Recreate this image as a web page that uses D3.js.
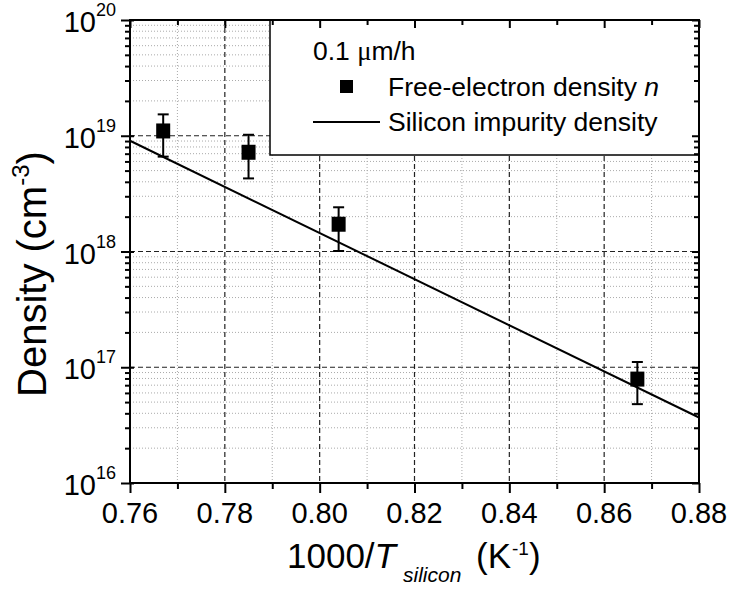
<!DOCTYPE html>
<html><head><meta charset="utf-8">
<script src="https://cdn.jsdelivr.net/npm/d3@7"></script>
<style>body{margin:0;background:#fff}svg{display:block}text{font-family:Arial,"Liberation Sans",sans-serif;fill:#000}</style>
</head><body><svg id="c" width="730" height="589"></svg>
<script>
const xMajorTicks = [0.76, 0.78, 0.80, 0.82, 0.84, 0.86, 0.88];
const xTickLabels = ["0.76", "0.78", "0.80", "0.82", "0.84", "0.86", "0.88"];
const xMinorTicks = [0.77, 0.79, 0.81, 0.83, 0.85, 0.87];
const yExponents = [16, 17, 18, 19, 20];
const pointsX = [0.767, 0.785, 0.804, 0.867];
const pointsY = [1.10e19, 7.2e18, 1.72e18, 7.9e16];
const errHigh = [1.53e19, 1.02e19, 2.41e18, 1.11e17];
const errLow = [6.6e18, 4.28e18, 1.01e18, 4.8e16];
const lineX = [0.76, 0.88];
const lineY = [9.05e18, 3.68e16];

const L = 130, R = 699, T = 20, B = 483;
const svg = d3.select("#c");
const x = d3.scaleLinear().domain([0.76, 0.88]).range([L, R]);
const y = d3.scaleLog().domain([1e16, 1e20]).range([B, T]);

const yMajor = yExponents.map(e => Math.pow(10, e));
const yMinor = [];
for (let e = 16; e < 20; e++) for (let k = 2; k <= 9; k++) yMinor.push(k * Math.pow(10, e));

// grid
const g = svg.append("g");
g.selectAll(".gxm").data(xMinorTicks).join("line")
  .attr("x1", d => x(d)).attr("x2", d => x(d)).attr("y1", T).attr("y2", B)
  .attr("stroke", "#aaa").attr("stroke-width", 1).attr("stroke-dasharray", "1,2");
g.selectAll(".gym").data(yMinor).join("line")
  .attr("x1", L).attr("x2", R).attr("y1", d => y(d)).attr("y2", d => y(d))
  .attr("stroke", "#aaa").attr("stroke-width", 1).attr("stroke-dasharray", "1,2");
g.selectAll(".gxM").data(xMajorTicks.slice(1, -1)).join("line")
  .attr("x1", d => x(d)).attr("x2", d => x(d)).attr("y1", T).attr("y2", B)
  .attr("stroke", "#222").attr("stroke-width", 1.2).attr("stroke-dasharray", "5,3");
g.selectAll(".gyM").data(yMajor.slice(1, -1)).join("line")
  .attr("x1", L).attr("x2", R).attr("y1", d => y(d)).attr("y2", d => y(d))
  .attr("stroke", "#222").attr("stroke-width", 1.2).attr("stroke-dasharray", "5,3");

// legend box
svg.append("rect").attr("x", 270).attr("y", T).attr("width", R - 270).attr("height", 155 - T)
  .attr("fill", "#fff").attr("stroke", "#000").attr("stroke-width", 1.5);

// fitted line
svg.append("path").datum(lineX.map((d, i) => [d, lineY[i]]))
  .attr("d", d3.line().x(d => x(d[0])).y(d => y(d[1])))
  .attr("fill", "none").attr("stroke", "#000").attr("stroke-width", 2);

// error bars and points
const pts = svg.append("g");
pointsX.forEach((px, i) => {
  const cx = x(px);
  pts.append("line").attr("x1", cx).attr("x2", cx).attr("y1", y(errHigh[i])).attr("y2", y(errLow[i]))
    .attr("stroke", "#000").attr("stroke-width", 2);
  [errHigh[i], errLow[i]].forEach(v => pts.append("line")
    .attr("x1", cx - 5.5).attr("x2", cx + 5.5).attr("y1", y(v)).attr("y2", y(v))
    .attr("stroke", "#000").attr("stroke-width", 2));
  pts.append("rect").attr("x", cx - 7).attr("y", y(pointsY[i]) - 7.5).attr("width", 14).attr("height", 15).attr("fill", "#000");
});

// axes
function style(sel) { sel.select(".domain").remove(); sel.selectAll("line").attr("stroke", "#000").attr("stroke-width", 2); sel.selectAll("text").remove(); }
svg.append("g").attr("transform", `translate(0,${B})`).call(d3.axisBottom(x).tickValues(xMajorTicks).tickSize(10)).call(style);
svg.append("g").attr("transform", `translate(0,${B})`).call(d3.axisBottom(x).tickValues(xMinorTicks).tickSize(6)).call(style);
svg.append("g").attr("transform", `translate(0,${T})`).call(d3.axisBottom(x).tickValues(xMajorTicks).tickSize(8)).call(style);
svg.append("g").attr("transform", `translate(0,${T})`).call(d3.axisBottom(x).tickValues(xMinorTicks).tickSize(5)).call(style);
svg.append("g").attr("transform", `translate(${L},0)`).call(d3.axisLeft(y).tickValues(yMajor).tickSize(9)).call(style);
svg.append("g").attr("transform", `translate(${L},0)`).call(d3.axisRight(y).tickValues(yMajor).tickSize(4)).call(style);
svg.append("g").attr("transform", `translate(${L},0)`).call(d3.axisLeft(y).tickValues(yMinor).tickSize(5)).call(style);
svg.append("g").attr("transform", `translate(${R},0)`).call(d3.axisLeft(y).tickValues(yMajor).tickSize(7)).call(style);
svg.append("g").attr("transform", `translate(${R},0)`).call(d3.axisLeft(y).tickValues(yMinor).tickSize(5)).call(style);
svg.append("rect").attr("x", L).attr("y", T).attr("width", R - L).attr("height", B - T)
  .attr("fill", "none").attr("stroke", "#000").attr("stroke-width", 2);

// tick labels
svg.selectAll(".xl").data(xMajorTicks).join("text")
  .attr("x", d => x(d)).attr("y", 523).attr("text-anchor", "middle").attr("font-size", 29)
  .text((d, i) => xTickLabels[i]);
yExponents.forEach(e => {
  const t = svg.append("text").attr("x", 116).attr("y", y(Math.pow(10, e)) + 12).attr("text-anchor", "end").attr("font-size", 29);
  t.append("tspan").text("10");
  t.append("tspan").attr("dy", -16).attr("font-size", 18).text(String(e));
});

// axis titles
const xt = svg.append("text").attr("x", 287).attr("y", 568).attr("font-size", 35);
xt.append("tspan").text("1000/");
xt.append("tspan").attr("font-style", "italic").text("T");
xt.append("tspan").attr("font-style", "italic").attr("font-size", 21).attr("dy", 14).attr("x", 403).text("silicon");
xt.append("tspan").attr("dy", -14).attr("x", 476).text("(K");
xt.append("tspan").attr("font-size", 19).attr("dy", -13).attr("x", 512).text("-1");
xt.append("tspan").attr("dy", 13).attr("x", 529).text(")");

const yt = svg.append("text").attr("transform", "translate(46,397) rotate(-90)").attr("font-size", 40);
yt.append("tspan").text("Density (cm");
yt.append("tspan").attr("font-size", 24).attr("dy", -17).text("-3");
yt.append("tspan").attr("dy", 17).text(")");

// legend content
const lt = svg.append("text").attr("x", 313).attr("y", 60).attr("font-size", 26.5);
lt.append("tspan").text("0.1 ");
lt.append("tspan").attr("font-family", "'Liberation Serif','Times New Roman',serif").text("μ");
lt.append("tspan").text("m/h");
svg.append("rect").attr("x", 340).attr("y", 80).attr("width", 13).attr("height", 13).attr("fill", "#000");
const l2 = svg.append("text").attr("x", 388).attr("y", 96).attr("font-size", 26.5);
l2.append("tspan").text("Free-electron density ");
l2.append("tspan").attr("font-style", "italic").text("n");
svg.append("line").attr("x1", 313).attr("x2", 380).attr("y1", 122).attr("y2", 122).attr("stroke", "#000").attr("stroke-width", 2);
svg.append("text").attr("x", 388).attr("y", 131).attr("font-size", 26.5).text("Silicon impurity density");
</script></body></html>
